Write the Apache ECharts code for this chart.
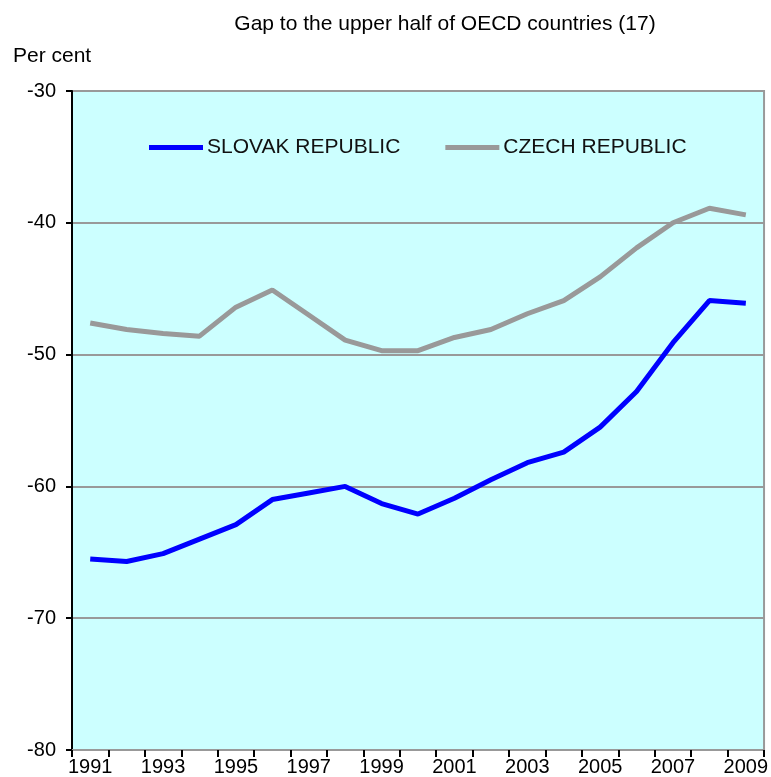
<!DOCTYPE html>
<html>
<head>
<meta charset="utf-8">
<script src="https://cdn.jsdelivr.net/npm/echarts@6/dist/echarts.min.js"></script>
<style>
html,body{margin:0;padding:0;background:#fff;}
#c{width:771px;height:777px;}
</style>
</head>
<body>
<div id="c"></div>
<script>
const years = ['1991','1992','1993','1994','1995','1996','1997','1998','1999','2000','2001','2002','2003','2004','2005','2006','2007','2008','2009'];
const slovak = [-65.5,-65.7,-65.1,-64.0,-62.9,-61.0,-60.5,-60.0,-61.3,-62.1,-60.9,-59.5,-58.2,-57.4,-55.5,-52.8,-49.1,-45.9,-46.1];
const czech = [-47.6,-48.1,-48.4,-48.6,-46.4,-45.1,-47.0,-48.9,-49.7,-49.7,-48.7,-48.1,-46.9,-45.9,-44.1,-41.9,-40.0,-38.9,-39.4];
const yTicks = {min:-80, max:-30, interval:10};

const FONT = 'Liberation Sans, Arial, sans-serif';
const chart = echarts.init(document.getElementById('c'), null, {renderer:'canvas'});
chart.setOption({
  animation:false,
  backgroundColor:'#ffffff',
  title:[
    {text:'Gap to the upper half of OECD countries (17)', left:440, top:9, textAlign:'center',
     textStyle:{fontFamily:FONT, fontSize:21, fontWeight:'normal', color:'#000'}},
    {text:'Per cent', left:8, top:41,
     textStyle:{fontFamily:FONT, fontSize:21, fontWeight:'normal', color:'#000'}}
  ],
  legend:{
    left:149, top:137, padding:0, itemWidth:54, itemHeight:5, itemGap:45,
    icon:'rect',
    textStyle:{fontFamily:FONT, fontSize:21, color:'#111', padding:[0,0,0,-1]},
    data:['SLOVAK REPUBLIC','CZECH REPUBLIC']
  },
  grid:{left:72, top:91, right:4, bottom:27, show:true, backgroundColor:'#CCFFFF', borderColor:'#999999', borderWidth:2},
  xAxis:{
    type:'category', data:years, boundaryGap:true,
    axisLine:{lineStyle:{color:'#999999', width:2}},
    axisTick:{show:true, interval:0, length:7, lineStyle:{color:'#000', width:2}},
    axisLabel:{interval:1, fontFamily:FONT, fontSize:20, color:'#000', margin:7}
  },
  yAxis:{
    type:'value', min:yTicks.min, max:yTicks.max, interval:yTicks.interval,
    axisLine:{show:true, lineStyle:{color:'#000', width:2}},
    axisTick:{show:true, length:6, lineStyle:{color:'#000', width:2}},
    axisLabel:{fontFamily:FONT, fontSize:20, color:'#000', margin:16},
    splitLine:{show:true, lineStyle:{color:'#999999', width:2}}
  },
  series:[
    {name:'SLOVAK REPUBLIC', type:'line', data:slovak, symbol:'none', smooth:false,
     lineStyle:{color:'#0000FF', width:5}, itemStyle:{color:'#0000FF'}},
    {name:'CZECH REPUBLIC', type:'line', data:czech, symbol:'none', smooth:false,
     lineStyle:{color:'#999999', width:5}, itemStyle:{color:'#999999'}}
  ]
});
</script>
</body>
</html>
